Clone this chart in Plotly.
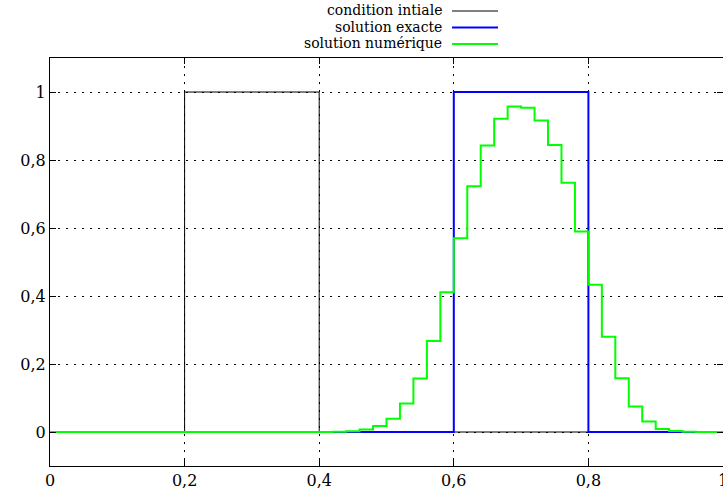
import plotly.graph_objects as go

# ---- data ----
x_init = [0.0, 0.2, 0.4, 1.0]
y_init = [0.0, 1.0, 0.0, 0.0]

x_exact = [0.0, 0.6, 0.8, 1.0]
y_exact = [0.0, 1.0, 0.0, 0.0]

# numerical solution: cell left edges (width 0.02) and cell values
x_num = [round(0.02 * i, 2) for i in range(50)] + [1.0]
y_num = ([0.0] * 21 +
         [0.0005, 0.002, 0.007, 0.018, 0.039, 0.084, 0.157, 0.268, 0.411,
          0.570, 0.723, 0.843, 0.921, 0.957, 0.954, 0.916, 0.844, 0.733, 0.590,
          0.433, 0.280, 0.158, 0.075, 0.031, 0.009, 0.003, 0.001] +
         [0.0] * 2)
y_num = y_num + [y_num[-1]]

names = ["condition intiale", "solution exacte", "solution numérique"]
colors = ["#000000", "#0000ff", "#00ff00"]
widths = [1, 2, 2]

x_ticks = [0, 0.2, 0.4, 0.6, 0.8, 1]
x_ticktext = ["0", "0,2", "0,4", "0,6", "0,8", "1"]
y_ticks = [0, 0.2, 0.4, 0.6, 0.8, 1]
y_ticktext = ["0", "0,2", "0,4", "0,6", "0,8", "1"]

FONT = "DejaVu Serif, DejaVu Sans, serif"

fig = go.Figure()
for xs, ys, nm, c, w in zip([x_init, x_exact, x_num], [y_init, y_exact, y_num],
                            names, colors, widths):
    fig.add_trace(go.Scatter(x=xs, y=ys, mode="lines", name=nm,
                             line=dict(color=c, width=w, shape="hv"),
                             showlegend=False))

W, H = 723, 500
ml, mr, mt, mb = 50, 0, 58, 34
pw, ph = W - ml - mr, H - mt - mb

def px2paper_x(px):
    return (px - ml) / pw

def px2paper_y(py):
    return (H - mb - py) / ph

# legend drawn manually (text right-aligned, sample on the right)
leg_y = [10, 26.5, 43]
for nm, c, w, yy in zip(names, colors, widths, leg_y):
    fig.add_annotation(x=px2paper_x(443), y=px2paper_y(yy), xref="paper", yref="paper",
                       text=nm, showarrow=False, xanchor="right", yanchor="middle",
                       borderpad=0,
                       font=dict(family=FONT, size=14, color="black"))
    fig.add_shape(type="line", xref="paper", yref="paper",
                  x0=px2paper_x(452), x1=px2paper_x(498),
                  y0=px2paper_y(yy + 1), y1=px2paper_y(yy + 1),
                  line=dict(color=c, width=w if w > 1 else 1.2))

axis_common = dict(showline=True, linecolor="black", linewidth=1, mirror="allticks",
                   ticks="inside", ticklen=6, tickcolor="black", tickwidth=1,
                   showgrid=True, gridcolor="black", gridwidth=1, griddash="2px,6px",
                   zeroline=False, layer="above traces", ticklabeloverflow="allow",
                   automargin=False,
                   tickfont=dict(family=FONT, size=16, color="black"))

fig.update_xaxes(range=[0, 1], tickvals=x_ticks, ticktext=x_ticktext, **axis_common)
fig.update_yaxes(range=[-0.1, 1.1], tickvals=y_ticks, ticktext=y_ticktext, **axis_common)

fig.update_layout(width=W, height=H, margin=dict(l=ml, r=mr, t=mt, b=mb, autoexpand=False),
                  plot_bgcolor="white", paper_bgcolor="white",
                  font=dict(family=FONT, size=16, color="black"))

fig.write_html("out.html")
